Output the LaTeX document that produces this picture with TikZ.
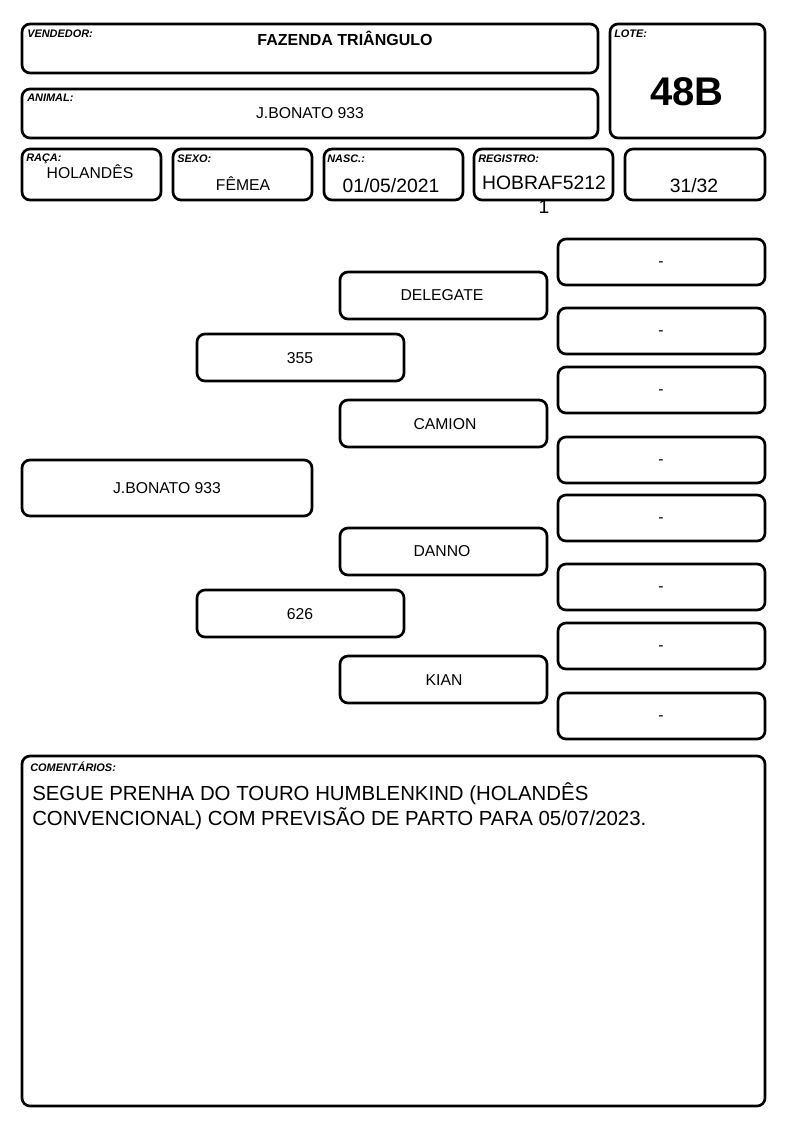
\documentclass[tikz,border=0pt]{standalone}
\usepackage{fontspec}
\setmainfont{Liberation Sans}
\usetikzlibrary{positioning}

\begin{document}
\begin{tikzpicture}[x=0.75pt,y=-0.75pt,
    box/.style={line width=2pt,rounded corners=6pt},
    lbl/.style={anchor=north west,inner sep=0pt,font=\fontsize{8.2}{9}\selectfont\bfseries\itshape},
    val/.style={inner sep=0pt,font=\fontsize{11.8}{14}\selectfont},
    bigval/.style={inner sep=0pt,font=\fontsize{14.5}{17.5}\selectfont}]
    \useasboundingbox (0,0) rectangle (794,1123);

    % Header boxes
    \draw[box] (22,24) rectangle (598,73);
    \draw[box] (610,24) rectangle (765,138);
    \draw[box] (22,89) rectangle (598,138);
    \node[lbl] (vendlbl) at (27,30) {VENDEDOR:};
    \node[val,font=\fontsize{12}{14}\selectfont\bfseries] (vend) at (345,38) {FAZENDA TRIÂNGULO};
    \node[lbl] (lotelbl) at (614,30) {LOTE:};
    \node[inner sep=0pt,font=\fontsize{30}{34}\selectfont\bfseries] (lote) at (687,92) {48B};
    \node[lbl] (animlbl) at (27,94) {ANIMAL:};
    \node[val] (anim) at (310,113) {J.BONATO 933};

    % Data row
    \draw[box] (22,149) rectangle (161,200);
    \draw[box] (173,149) rectangle (312,200);
    \draw[box] (324,149) rectangle (463,200);
    \draw[box] (474,149) rectangle (613,200);
    \draw[box] (625,149) rectangle (765,200);
    \node[lbl] (racalbl) at (26,154) {RAÇA:};
    \node[val] (raca) at (90,172) {HOLANDÊS};
    \node[lbl] (sexolbl) at (177,155) {SEXO:};
    \node[val] (sexo) at (243,184) {FÊMEA};
    \node[lbl] (nasclbl) at (327,155) {NASC.:};
    \node[bigval] (nasc) at (391,186) {01/05/2021};
    \node[lbl] (reglbl) at (478,155) {REGISTRO:};
    \node[bigval,anchor=north,align=center] (reg) at (544,176) {HOBRAF5212\\1};
    \node[bigval] (grau) at (694,186) {31/32};

    % Pedigree: animal
    \draw[box] (22,460) rectangle (312,516);
    \node[val] (animal) at (167,488) {J.BONATO 933};

    % Parents
    \draw[box] (197,334) rectangle (404,381);
    \node[val] (pai) at (300,358) {355};
    \draw[box] (197,590) rectangle (404,637);
    \node[val] (mae) at (300,614) {626};

    % Grandparents
    \draw[box] (340,272) rectangle (547,319);
    \node[val] (avo1) at (442,295) {DELEGATE};
    \draw[box] (340,400) rectangle (547,447);
    \node[val] (avo2) at (445,424) {CAMION};
    \draw[box] (340,528) rectangle (547,575);
    \node[val] (avo3) at (442,551) {DANNO};
    \draw[box] (340,656) rectangle (547,703);
    \node[val] (avo4) at (444,680) {KIAN};

    % Great-grandparents
    \foreach \y [count=\i] in {262,331,390,460,518,587,646,716} {
        \draw[box] (558,\y-23) rectangle (765,\y+23);
        \node[val] (bis\i) at (661,\y+2) {-};
    }

    % Comments
    \draw[box] (22,756) rectangle (765,1106);
    \node[lbl] (comlbl) at (30,762) {COMENTÁRIOS:};
    \node[anchor=north west,inner sep=0pt,align=left,font=\fontsize{15.3}{19}\selectfont] (com) at (32,782)
        {SEGUE PRENHA DO TOURO HUMBLENKIND (HOLANDÊS\\CONVENCIONAL) COM PREVISÃO DE PARTO PARA 05/07/2023.};
\end{tikzpicture}
\end{document}
